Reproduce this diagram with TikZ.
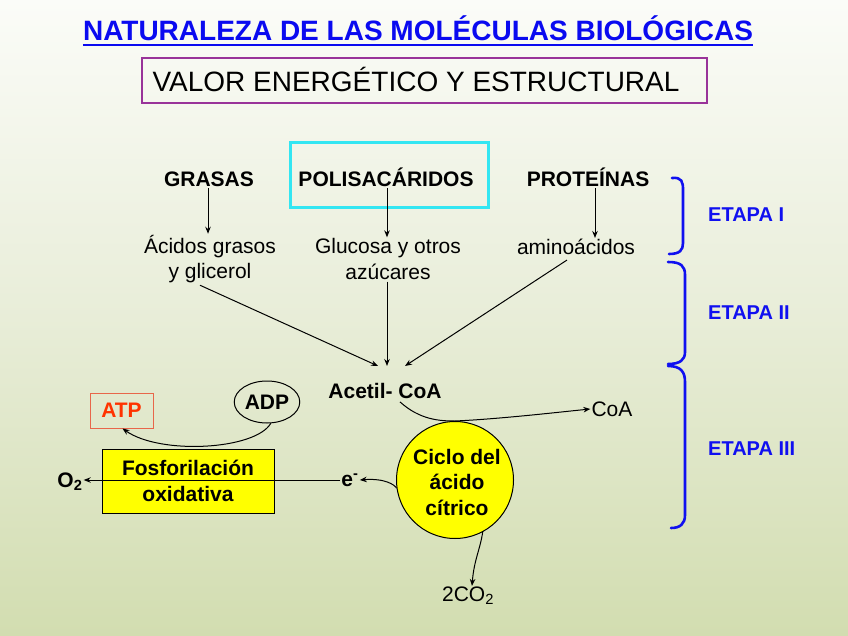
\documentclass[tikz,border=0pt]{standalone}
\usepackage{fontspec}
\setmainfont{Liberation Sans}
\usetikzlibrary{arrows.meta,shapes.geometric}
\definecolor{titleblue}{HTML}{0A0AF0}
\definecolor{etapablue}{HTML}{1010F0}
\definecolor{boxpurple}{HTML}{993399}
\definecolor{cyanbox}{HTML}{33E6F2}
\definecolor{atpred}{HTML}{FF3300}
\definecolor{atpborder}{HTML}{E8664A}
\definecolor{bgtop}{HTML}{FBFCF8}
\definecolor{bgmid}{HTML}{E8EDD8}
\definecolor{bgbot}{HTML}{D2DDB0}
\definecolor{cycyellow}{HTML}{FFFF00}
\begin{document}
\begin{tikzpicture}[x=1pt,y=-1pt,
  arr/.style={-{Stealth[length=7pt,width=5.5pt]}, line width=1pt},
  big/.style={font=\fontsize{21}{25.5}\selectfont, align=center, inner sep=1pt},
  bigb/.style={font=\fontsize{21}{25.5}\selectfont\bfseries, align=center, inner sep=1pt},
  etapa/.style={font=\fontsize{20}{24}\selectfont\bfseries, text=etapablue, anchor=west, inner sep=0pt},
  brace/.style={etapablue, line width=2.6pt, line cap=round}]
\shade[top color=bgtop, bottom color=bgbot, middle color=bgmid] (0,0) rectangle (848,636);
\useasboundingbox (0,0) rectangle (848,636);
% title
\node[font=\fontsize{28}{32}\selectfont\bfseries, text=titleblue, anchor=base, inner sep=0pt] (title) at (418,41) {NATURALEZA DE LAS MOLÉCULAS BIOLÓGICAS};
\draw[titleblue, line width=2pt] ([yshift=-4pt]title.base west) -- ([yshift=-4pt]title.base east);
\node[draw=boxpurple, line width=1.6pt, minimum width=565pt, minimum height=45pt, inner sep=0pt] (sub) at (424.5,80.5) {};
\node[font=\fontsize{28}{32}\selectfont, anchor=base, inner sep=0pt] (subt) at (416,92) {VALOR ENERGÉTICO Y ESTRUCTURAL};
% cyan box
\node[draw=cyanbox, line width=3pt, minimum width=198pt, minimum height=65pt, inner sep=0pt] (cyan) at (389,175.5) {};
% row 1
\node[bigb, anchor=base] (grasas) at (209,187) {GRASAS};
\node[bigb, anchor=base] (polis) at (386,187) {POLISACÁRIDOS};
\node[bigb, anchor=base] (prot) at (588,187) {PROTEÍNAS};
% row 2
\node[big] (acidos) at (210,259) {Ácidos grasos\\y glicerol};
\node[big] (gluc) at (388,259) {Glucosa y otros\\azúcares};
\node[big] (amino) at (576,247) {aminoácidos};
\draw[arr] (grasas.south -| 208,0) -- (acidos.north -| 208,0);
\draw[arr] (polis.south -| 387,0) -- (gluc.north -| 387,0);
\draw[arr] (prot.south -| 595,0) -- (amino.north -| 595,0);
% convergence
\node[bigb] (acetil) at (385,391) {Acetil- CoA};
\coordinate (meet) at (387,366);
\draw[arr] ([xshift=-10pt,yshift=-1pt]acidos.south) -- ([xshift=-9pt]meet);
\draw[arr] ([yshift=-1pt]gluc.south -| meet) -- (meet);
\draw[arr] ([xshift=-9pt,yshift=-4pt]amino.south) -- ([xshift=18pt]meet);
% cycle
\node[circle, draw, line width=1pt, fill=cycyellow, minimum size=117pt, inner sep=0pt] (ciclo) at (455,480) {};
\node[bigb] (ciclot) at (457,482) {Ciclo del\\ácido\\cítrico};
\node[big] (coa) at (612,409) {CoA};
\draw[arr] ([xshift=15pt,yshift=-2pt]acetil.south) .. controls (420,420) and (440,421) .. (ciclo.north) .. controls (500,419) and (560,412) .. (coa.west);
\node[bigb] (e) at (350,480) {e\textsuperscript{-}};
\draw[arr] (ciclo.188) .. controls (395,485) and (385,478) .. (e.east);
\node[big] (co2) at (468,596) {2CO\textsubscript{2}};
\draw[arr] (ciclo.-62) .. controls (480,550) and (474,560) .. (co2.north -| 472,0);
% oxidative phosphorylation
\node[draw, line width=1pt, fill=cycyellow, minimum width=172pt, minimum height=64pt, inner sep=0pt] (fosf) at (188,481) {};
\node[bigb] (fosft) at (188,481) {Fosforilación\\oxidativa};
\node[bigb] (o2) at (70,482) {O\textsubscript{2}};
\draw[arr] (e.west) -- (e.west -| o2.east);
% ADP / ATP
\node[ellipse, draw, line width=1pt, minimum width=54pt, minimum height=42pt, inner sep=0pt, bigb] (adp) at (267,402) {ADP};
\node[draw=atpborder, line width=1pt, minimum width=63pt, minimum height=35pt, inner sep=0pt, text=atpred, bigb] (atp) at (121.5,410.5) {ATP};
\draw[arr] (adp.-80) .. controls (255,450) and (160,455) .. ([xshift=1pt]atp.south);
% braces
\draw[brace] (672,178) .. controls (682,177) and (683,182) .. (683,190) -- (683,243) .. controls (683,250) and (680,254) .. (669,254);
\draw[brace] (668,262) .. controls (681,262) and (685,266) .. (685,275) -- (685,352) .. controls (685,360) and (680,364) .. (668,364);
\draw[brace] (668,366) .. controls (681,366) and (685,372) .. (685,382) -- (685,515) .. controls (685,524) and (680,528) .. (671,528);
\node[etapa] (e1) at (708,215) {ETAPA I};
\node[etapa] (e2) at (708,313) {ETAPA II};
\node[etapa] (e3) at (708,449) {ETAPA III};
\end{tikzpicture}
\end{document}
